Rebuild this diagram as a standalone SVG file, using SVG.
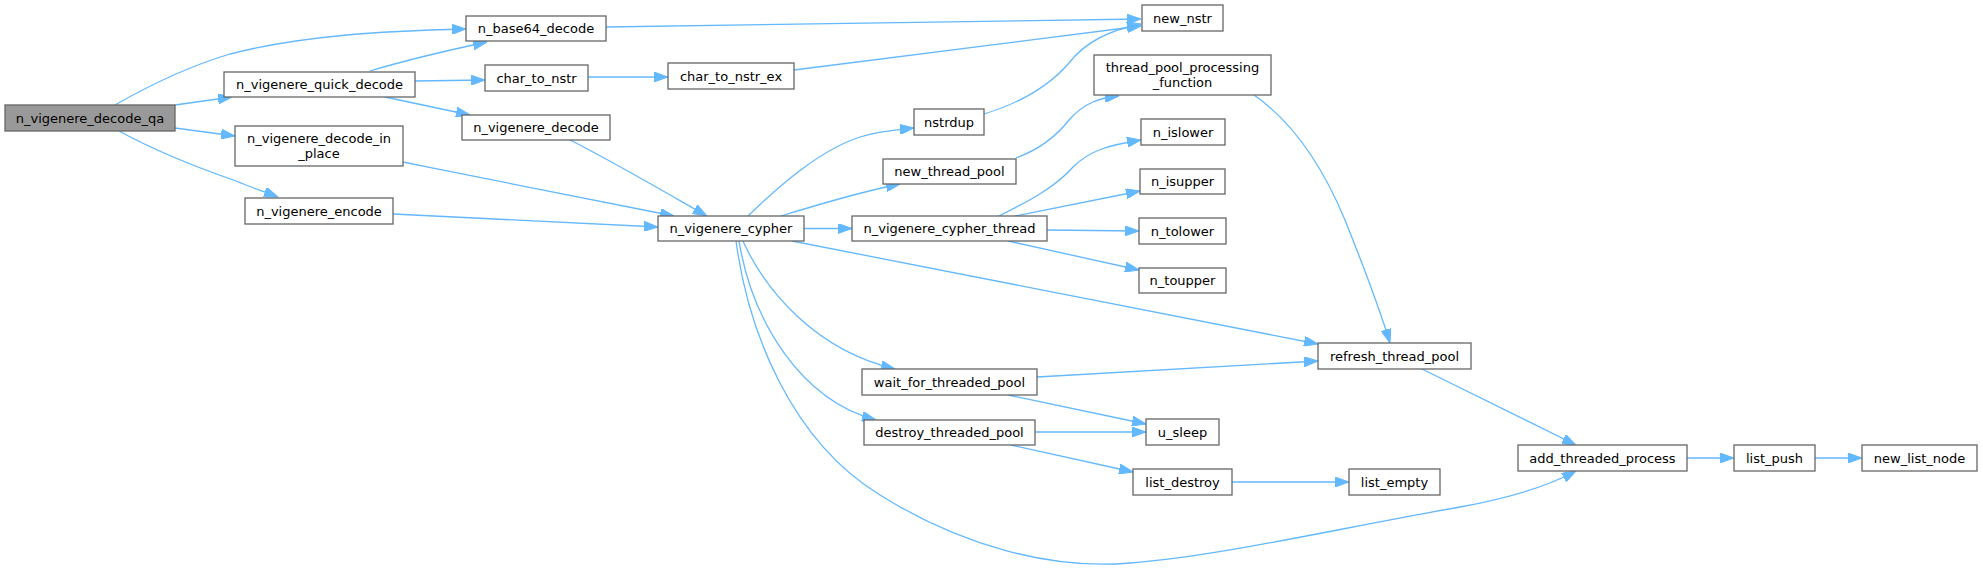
<svg xmlns="http://www.w3.org/2000/svg" width="1983" height="569" viewBox="0 0 1983 569">
<style>
.n rect{fill:#ffffff;stroke:#666666;stroke-width:1.3}
.n.start rect{fill:#999999}
.n text{font-family:"DejaVu Sans","Liberation Sans",sans-serif;font-size:13px;fill:#000000;text-anchor:middle}
.e path{fill:none;stroke:#63b8ff;stroke-width:1.3;marker-end:url(#ah)}
</style>
<defs>
<marker id="ah" viewBox="0 0 14 10" refX="14" refY="5" markerWidth="14" markerHeight="10" markerUnits="userSpaceOnUse" orient="auto">
<path d="M0,0 L14,5 L0,10 Z" fill="#63b8ff" stroke="#63b8ff" stroke-width="1"/>
</marker>
</defs>
<rect x="0" y="0" width="1983" height="569" fill="#ffffff"/>
<g id="edges" class="e">
<path d="M115,105 C155,82 190,66 230,54 C300,36 380,31 466,29"/>
<path d="M175,105 L232,97"/>
<path d="M175,128 L235,136"/>
<path d="M119,131 C150,148 190,165 236,181 C250,187 265,192 278,197"/>
<path d="M606,27 L1141,19"/>
<path d="M370,71 C400,62 440,52 487,42"/>
<path d="M415,81 L485,80"/>
<path d="M385,97 L470,115"/>
<path d="M588,77 L668,77"/>
<path d="M794,70 L1141,26"/>
<path d="M570,140 C610,160 670,195 707,216"/>
<path d="M403,162 C500,182 600,202 674,216"/>
<path d="M393,214 L658,227"/>
<path d="M748,216 C780,185 820,150 860,137 C880,131 895,130 914,128"/>
<path d="M984,114 C1020,103 1050,85 1069,63 C1085,42 1110,30 1141,24"/>
<path d="M781,216 C820,204 860,192 900,184"/>
<path d="M1016,158 C1035,151 1055,138 1069,120 C1085,102 1100,98 1119,96"/>
<path d="M1254,95 C1290,120 1320,160 1345,220 C1365,270 1380,310 1390,343"/>
<path d="M804,228.5 L852,228.5"/>
<path d="M999,216 C1025,203 1055,188 1073,167 C1090,150 1110,145 1141,140"/>
<path d="M1015,216 L1140,191"/>
<path d="M1047,230 L1139,231"/>
<path d="M1008,241 L1139,270"/>
<path d="M792,241 L1318,344"/>
<path d="M743,241 C765,290 815,350 895,369"/>
<path d="M739,241 C752,320 800,400 876,420"/>
<path d="M736,241 C748,330 790,440 880,495 C960,545 1050,570 1130,563 C1220,556 1330,530 1460,507 C1510,498 1550,485 1576,471"/>
<path d="M1037,377 L1318,361"/>
<path d="M1008,395 L1146,424"/>
<path d="M1035,432 L1146,432"/>
<path d="M1011,445 L1133,472"/>
<path d="M1232,482 L1349,482"/>
<path d="M1422,369 L1576,445"/>
<path d="M1687,458 L1734,458"/>
<path d="M1815,458 L1862,458"/>
</g>
<g id="node_n_vigenere_decode_qa" class="n start"><rect x="5" y="105" width="170" height="26"/><text x="90" y="122.5">n_vigenere_decode_qa</text></g>
<g id="node_n_base64_decode" class="n"><rect x="466" y="16" width="140" height="25"/><text x="536" y="33">n_base64_decode</text></g>
<g id="node_new_nstr" class="n"><rect x="1142" y="5" width="81" height="26"/><text x="1182.5" y="22.5">new_nstr</text></g>
<g id="node_n_vigenere_quick_decode" class="n"><rect x="224" y="72" width="191" height="25"/><text x="319.5" y="89">n_vigenere_quick_decode</text></g>
<g id="node_char_to_nstr" class="n"><rect x="485" y="65" width="103" height="26"/><text x="536.5" y="82.5">char_to_nstr</text></g>
<g id="node_char_to_nstr_ex" class="n"><rect x="668" y="63" width="126" height="26"/><text x="731" y="80.5">char_to_nstr_ex</text></g>
<g id="node_n_vigenere_decode" class="n"><rect x="462" y="115" width="148" height="25"/><text x="536" y="132">n_vigenere_decode</text></g>
<g id="node_n_vigenere_decode_in_place" class="n"><rect x="235" y="126" width="168" height="40"/><text x="319" y="143">n_vigenere_decode_in</text><text x="319" y="158">_place</text></g>
<g id="node_n_vigenere_encode" class="n"><rect x="245" y="198" width="148" height="26"/><text x="319" y="215.5">n_vigenere_encode</text></g>
<g id="node_nstrdup" class="n"><rect x="914" y="109" width="70" height="26"/><text x="949" y="126.5">nstrdup</text></g>
<g id="node_thread_pool_processing_function" class="n"><rect x="1094" y="55" width="177" height="40"/><text x="1182.5" y="72">thread_pool_processing</text><text x="1182.5" y="87">_function</text></g>
<g id="node_n_islower" class="n"><rect x="1141" y="119" width="84" height="26"/><text x="1183" y="136.5">n_islower</text></g>
<g id="node_new_thread_pool" class="n"><rect x="883" y="159" width="133" height="25"/><text x="949.5" y="176">new_thread_pool</text></g>
<g id="node_n_isupper" class="n"><rect x="1140" y="169" width="85" height="25"/><text x="1182.5" y="186">n_isupper</text></g>
<g id="node_n_vigenere_cypher" class="n"><rect x="658" y="216" width="146" height="25"/><text x="731" y="233">n_vigenere_cypher</text></g>
<g id="node_n_vigenere_cypher_thread" class="n"><rect x="852" y="216" width="195" height="25"/><text x="949.5" y="233">n_vigenere_cypher_thread</text></g>
<g id="node_n_tolower" class="n"><rect x="1139" y="218" width="87" height="26"/><text x="1182.5" y="235.5">n_tolower</text></g>
<g id="node_n_toupper" class="n"><rect x="1139" y="268" width="87" height="25"/><text x="1182.5" y="285">n_toupper</text></g>
<g id="node_refresh_thread_pool" class="n"><rect x="1318" y="343" width="153" height="26"/><text x="1394.5" y="360.5">refresh_thread_pool</text></g>
<g id="node_wait_for_threaded_pool" class="n"><rect x="862" y="369" width="175" height="26"/><text x="949.5" y="386.5">wait_for_threaded_pool</text></g>
<g id="node_u_sleep" class="n"><rect x="1146" y="419" width="73" height="26"/><text x="1182.5" y="436.5">u_sleep</text></g>
<g id="node_destroy_threaded_pool" class="n"><rect x="864" y="420" width="171" height="25"/><text x="949.5" y="437">destroy_threaded_pool</text></g>
<g id="node_list_destroy" class="n"><rect x="1133" y="469" width="99" height="26"/><text x="1182.5" y="486.5">list_destroy</text></g>
<g id="node_list_empty" class="n"><rect x="1349" y="469" width="91" height="26"/><text x="1394.5" y="486.5">list_empty</text></g>
<g id="node_add_threaded_process" class="n"><rect x="1518" y="445" width="169" height="26"/><text x="1602.5" y="462.5">add_threaded_process</text></g>
<g id="node_list_push" class="n"><rect x="1734" y="445" width="81" height="26"/><text x="1774.5" y="462.5">list_push</text></g>
<g id="node_new_list_node" class="n"><rect x="1862" y="445" width="115" height="26"/><text x="1919.5" y="462.5">new_list_node</text></g>
</svg>
